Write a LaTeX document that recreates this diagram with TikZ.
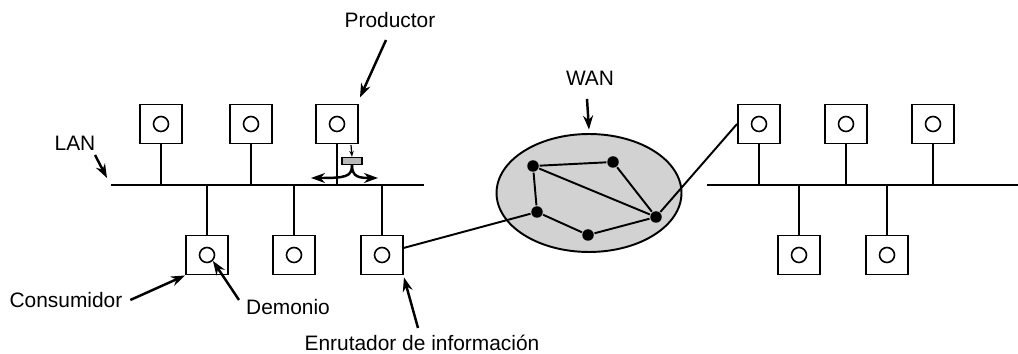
\documentclass[tikz,border=0pt]{standalone}
\usepackage{fontspec}
\setmainfont{Liberation Sans}
\usetikzlibrary{positioning,calc,arrows.meta,shapes.geometric}

\begin{document}
\begin{tikzpicture}[x=0.02cm,y=-0.02cm,line width=1.1pt,font=\fontsize{11.9}{14}\selectfont]
  % Styles local to this figure.
  \tikzset{
    host/.style={draw,line width=1.1pt,minimum width=0.84cm,minimum height=0.78cm,inner sep=0pt,fill=white},
    port/.style={draw,circle,line width=0.9pt,minimum size=0.3cm,inner sep=0pt},
    hop/.style={circle,fill=black,minimum size=0.23cm,inner sep=0pt},
    callout/.style={line width=1.4pt,-{Stealth[length=0.28cm,width=0.2cm]}},
    tag/.style={inner sep=1pt}
  }
  \useasboundingbox (0,0) rectangle (1018,354);

  % The two LAN buses.
  \coordinate (lanLw) at (111,185);
  \coordinate (lanLe) at (424,185);
  \coordinate (lanRw) at (707,185);
  \coordinate (lanRe) at (1018,185);
  \draw (lanLw) -- (lanLe);
  \draw (lanRw) -- (lanRe);

  % Hosts above and below the buses, each with its daemon.
  \foreach \n/\x in {t1/161,t2/251,t3/337,u1/759,u2/846,u3/933} {
    \node[host] (\n) at (\x,124) {};
    \node[port] (\n p) at (\n) {};
    \draw (\n.south) -- (\n.south |- lanLw);
  }
  \foreach \n/\x in {b1/207,b2/294,rt/382,v1/799,v2/887} {
    \node[host] (\n) at (\x,255) {};
    \node[port] (\n p) at (\n) {};
    \draw (\n.north) -- (\n.north |- lanLw);
  }

  % Message published onto the bus.
  \node[draw,fill=gray!55,line width=0.8pt,minimum width=0.4cm,minimum height=0.14cm,inner sep=0pt] (msg) at (352,161) {};
  \coordinate (msgin) at (351,145);
  \draw[line width=0.7pt,-{Stealth[length=0.12cm,width=0.09cm]}] (msgin) -- (msg.north);
  \coordinate (spreadL) at (311,178);
  \coordinate (spreadR) at (378,178);
  \draw[callout] (msg.south) .. controls (352,177) and (345,178) .. (spreadL);
  \draw[callout] (msg.south) .. controls (352,177) and (359,178) .. (spreadR);

  % WAN cloud and its routers.
  \node[draw,ellipse,fill=gray!35,minimum width=3.7cm,minimum height=2.36cm] (wan) at (589,193) {};
  \node[hop] (A) at (533,166) {};
  \node[hop] (B) at (613,162) {};
  \node[hop] (C) at (537,212) {};
  \node[hop] (D) at (588,235) {};
  \node[hop] (E) at (656,217) {};
  \draw (A) -- (B) -- (E) -- (A) -- (C) -- (D) -- (E);
  \draw (rt.18) -- (C);
  \draw (E) -- (u1.west);

  % Labels with pointers.
  \node[tag] (prod) at (390,20) {Productor};
  \coordinate (prodtail) at (386,40);
  \draw[callout] (prodtail) -- ([shift={(1,-6)}]t3.north east);

  \node[tag] (lan) at (75,143) {LAN};
  \coordinate (lantail) at (95,155);
  \draw[callout] (lantail) -- ([shift={(-4,-7)}]lanLw);

  \node[tag] (wanl) at (590,78) {WAN};
  \coordinate (wantail) at (587,99);
  \draw[callout] (wantail) -- ([yshift=2pt]wan.north);

  \node[tag] (cons) at (66,300) {Consumidor};
  \draw[callout] ([xshift=3pt]cons.east) -- (b1.south west);

  \node[tag] (dem) at (288,307) {Demonio};
  \coordinate (demtail) at (239,300);
  \draw[callout] (demtail) -- (b1p.south east);

  \node[tag] (enr) at (422,343) {Enrutador de información};
  \coordinate (enrtail) at (418,328);
  \draw[callout] (enrtail) -- ([shift={(0,2)}]rt.south east);
\end{tikzpicture}
\end{document}
